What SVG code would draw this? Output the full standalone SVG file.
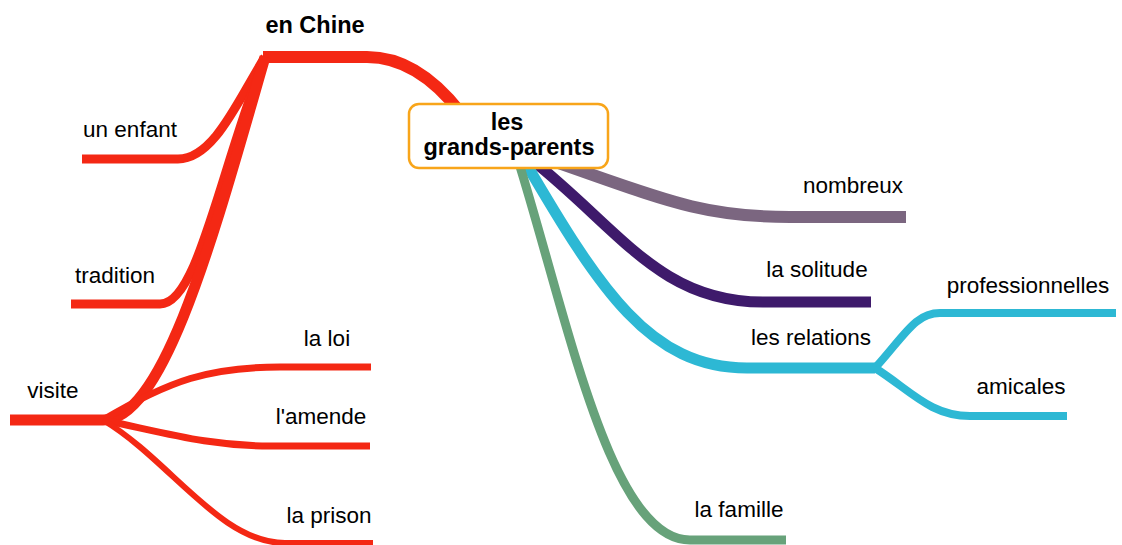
<svg xmlns="http://www.w3.org/2000/svg" width="1122" height="545" viewBox="0 0 1122 545">
<style>
.c{fill:none;stroke-linecap:butt;stroke-linejoin:round}
.red{stroke:#f42814}
.t{font-family:"Liberation Sans",Arial,sans-serif;font-size:22.5px;fill:#000;text-anchor:middle}
.b{font-weight:bold;font-size:23.5px}
</style>
<rect width="1122" height="545" fill="#fff"/>
<g id="connectors">
<path class="c red" stroke-width="12" d="M460,112 C435,80 405,57 367,57 H263"/>
<path class="c red" stroke-width="9" d="M265,57 C238,100 214,159 178,159 H82"/>
<path class="c red" stroke-width="9" d="M265,57 C220,170 198,304 160,304 H71"/>
<path class="c red" stroke-width="11" d="M265,57 C215,230 165,420 103,420 H10"/>
<path class="c red" stroke-width="7" d="M103,420 C170,380 210,367 280,367 H371"/>
<path class="c red" stroke-width="7" d="M103,420 C170,434 210,446 270,446 H370"/>
<path class="c red" stroke-width="6" d="M103,420 C170,460 220,543 285,543 H373"/>
<path class="c" stroke="#7b6680" stroke-width="12" d="M550,160 C660,198 700,217 790,217 H906"/>
<path class="c" stroke="#3e1a6b" stroke-width="11" d="M532,160 C620,230 660,302 763,302 H871"/>
<path class="c" stroke="#2db8d4" stroke-width="11" d="M524,160 C600,290 650,368 747,368 H875"/>
<path class="c" stroke="#2db8d4" stroke-width="8" d="M875,368 C905,335 915,313 940,313 H1116"/>
<path class="c" stroke="#2db8d4" stroke-width="8" d="M875,368 C910,390 930,416 970,416 H1067"/>
<path class="c" stroke="#67a27a" stroke-width="9" d="M518,160 C568,320 610,540 690,540 H786"/>
</g>
<g id="center">
<rect x="409" y="104" width="199" height="64" rx="10" fill="#fff" stroke="#f8a51a" stroke-width="2.5"/>
<text class="t b" x="507" y="130">les</text>
<text class="t b" x="509" y="155" font-size="24">grands-parents</text>
</g>
<g id="en-chine"><text class="t b" x="315" y="33">en Chine</text></g>
<g id="un-enfant"><text class="t" x="130" y="137">un enfant</text></g>
<g id="tradition"><text class="t" x="115" y="283">tradition</text></g>
<g id="visite"><text class="t" x="53" y="398">visite</text></g>
<g id="la-loi"><text class="t" x="327" y="346">la loi</text></g>
<g id="l-amende"><text class="t" x="321" y="424">l'amende</text></g>
<g id="la-prison"><text class="t" x="329" y="523">la prison</text></g>
<g id="nombreux"><text class="t" x="853" y="193">nombreux</text></g>
<g id="la-solitude"><text class="t" x="817" y="277">la solitude</text></g>
<g id="les-relations"><text class="t" x="811" y="345">les relations</text></g>
<g id="professionnelles"><text class="t" x="1028" y="293">professionnelles</text></g>
<g id="amicales"><text class="t" x="1021" y="394">amicales</text></g>
<g id="la-famille"><text class="t" x="739" y="517">la famille</text></g>
</svg>
